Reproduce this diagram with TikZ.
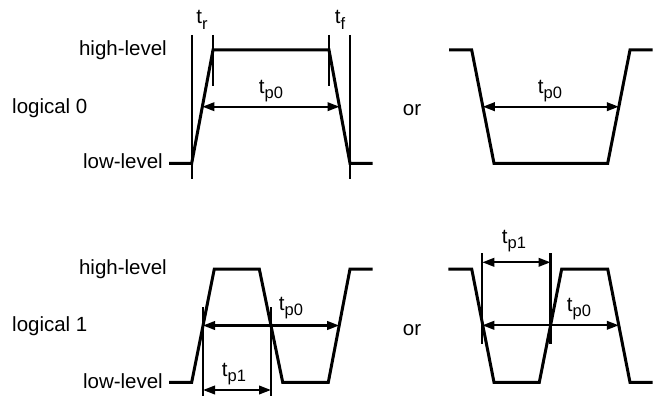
\documentclass[tikz,border=0pt]{standalone}
\usepackage{fontspec}
\setmainfont{Liberation Sans}
\usetikzlibrary{arrows.meta}
\newcommand{\tsb}[1]{t\raisebox{-5.5pt}{\fontsize{16.5}{18}\selectfont #1}}
\begin{document}
\begin{tikzpicture}[x=1pt,y=-1pt,
  wave/.style={line width=3pt},
  marker/.style={line width=2.1pt},
  dim/.style={line width=2.2pt,{Triangle[length=12pt,width=8.5pt]}-{Triangle[length=12pt,width=8.5pt]}},
  lbl/.style={inner sep=0pt,font=\fontsize{20.5}{24}\selectfont},
]
\useasboundingbox (0,0) rectangle (661,396);

% ---------- labels left ----------
\node[lbl,anchor=east] (hl0) at (167,50) {high-level};
\node[lbl,anchor=west] (lg0) at (12,108) {logical 0};
\node[lbl,anchor=east] (ll0) at (163,161) {low-level};
\node[lbl,anchor=east] (hl1) at (167,269) {high-level};
\node[lbl,anchor=west] (lg1) at (12,326) {logical 1};
\node[lbl,anchor=east] (ll1) at (163,381) {low-level};
\node[lbl] (or0) at (412,110) {or};
\node[lbl] (or1) at (412,330) {or};

% ---------- top left ----------
\coordinate (a0) at (169,163.3);
\coordinate (a1) at (191.7,163.3);
\coordinate (a2) at (213,50);
\coordinate (a3) at (329,50);
\coordinate (a4) at (350,163.3);
\coordinate (a5) at (372.7,163.3);
\draw[wave] (a0) -- (a1) -- (a2) -- (a3) -- (a4) -- (a5);
\coordinate (va1t) at (191.7,35); \coordinate (va1b) at (191.7,179);
\coordinate (va2t) at (213,35);   \coordinate (va2b) at (213,86);
\coordinate (va3t) at (329,35);   \coordinate (va3b) at (329,86);
\coordinate (va4t) at (350,35);   \coordinate (va4b) at (350,179);
\draw[marker] (va1t) -- (va1b);
\draw[marker] (va2t) -- (va2b);
\draw[marker] (va3t) -- (va3b);
\draw[marker] (va4t) -- (va4b);
\coordinate (am1) at (202.4,106.7);
\coordinate (am2) at (339.5,106.7);
\draw[dim] (am1) -- (am2);
\node[lbl] (tr) at (202,20) {\tsb{r}};
\node[lbl] (tf) at (340,20) {\tsb{f}};
\node[lbl] (tpa) at (271,91) {\tsb{p0}};

% ---------- top right ----------
\coordinate (b0) at (449,50);
\coordinate (b1) at (471.7,50);
\coordinate (b2) at (494,163.3);
\coordinate (b3) at (607.7,163.3);
\coordinate (b4) at (630,50);
\coordinate (b5) at (652.7,50);
\draw[wave] (b0) -- (b1) -- (b2) -- (b3) -- (b4) -- (b5);
\coordinate (bm1) at (482.8,106.7);
\coordinate (bm2) at (618.8,106.7);
\draw[dim] (bm1) -- (bm2);
\node[lbl] (tpb) at (550,91) {\tsb{p0}};

% ---------- bottom left ----------
\coordinate (c0) at (169,382.3);
\coordinate (c1) at (191.7,382.3);
\coordinate (c2) at (214.3,269);
\coordinate (c3) at (259.3,269);
\coordinate (c4) at (282.7,382.3);
\coordinate (c5) at (328.3,382.3);
\coordinate (c6) at (350,269);
\coordinate (c7) at (372.7,269);
\draw[wave] (c0) -- (c1) -- (c2) -- (c3) -- (c4) -- (c5) -- (c6) -- (c7);
\coordinate (vc1t) at (203,307); \coordinate (vc1b) at (203,396);
\coordinate (vc2t) at (271,307); \coordinate (vc2b) at (271,396);
\draw[marker] (vc1t) -- (vc1b);
\draw[marker] (vc2t) -- (vc2b);
\coordinate (cm1) at (203,325.5);
\coordinate (cm3) at (339.2,325.5);
\draw[dim] (cm1) -- (cm3);
\coordinate (cl1) at (203,390);
\coordinate (cl2) at (271,390);
\draw[dim] (cl1) -- (cl2);
\node[lbl] (tpc0) at (291,308) {\tsb{p0}};
\node[lbl] (tpc1) at (234,374) {\tsb{p1}};

% ---------- bottom right ----------
\coordinate (d0) at (448.3,269);
\coordinate (d1) at (471.7,269);
\coordinate (d2) at (494,382.3);
\coordinate (d3) at (539.3,382.3);
\coordinate (d4) at (561.7,269);
\coordinate (d5) at (607.7,269);
\coordinate (d6) at (630,382.3);
\coordinate (d7) at (652.7,382.3);
\draw[wave] (d0) -- (d1) -- (d2) -- (d3) -- (d4) -- (d5) -- (d6) -- (d7);
\coordinate (vd1t) at (482.3,253); \coordinate (vd1b) at (482.3,344);
\coordinate (vd2t) at (550.5,253); \coordinate (vd2b) at (550.5,344);
\draw[marker] (vd1t) -- (vd1b);
\draw[marker] (vd2t) -- (vd2b);
\coordinate (dl1) at (482.3,262.3);
\coordinate (dl2) at (550.5,262.3);
\draw[dim] (dl1) -- (dl2);
\coordinate (dm1) at (482.3,325.3);
\coordinate (dm3) at (618.8,325.3);
\draw[dim] (dm1) -- (dm3);
\node[lbl] (tpd1) at (514,241) {\tsb{p1}};
\node[lbl] (tpd0) at (579,309) {\tsb{p0}};
\end{tikzpicture}
\end{document}
